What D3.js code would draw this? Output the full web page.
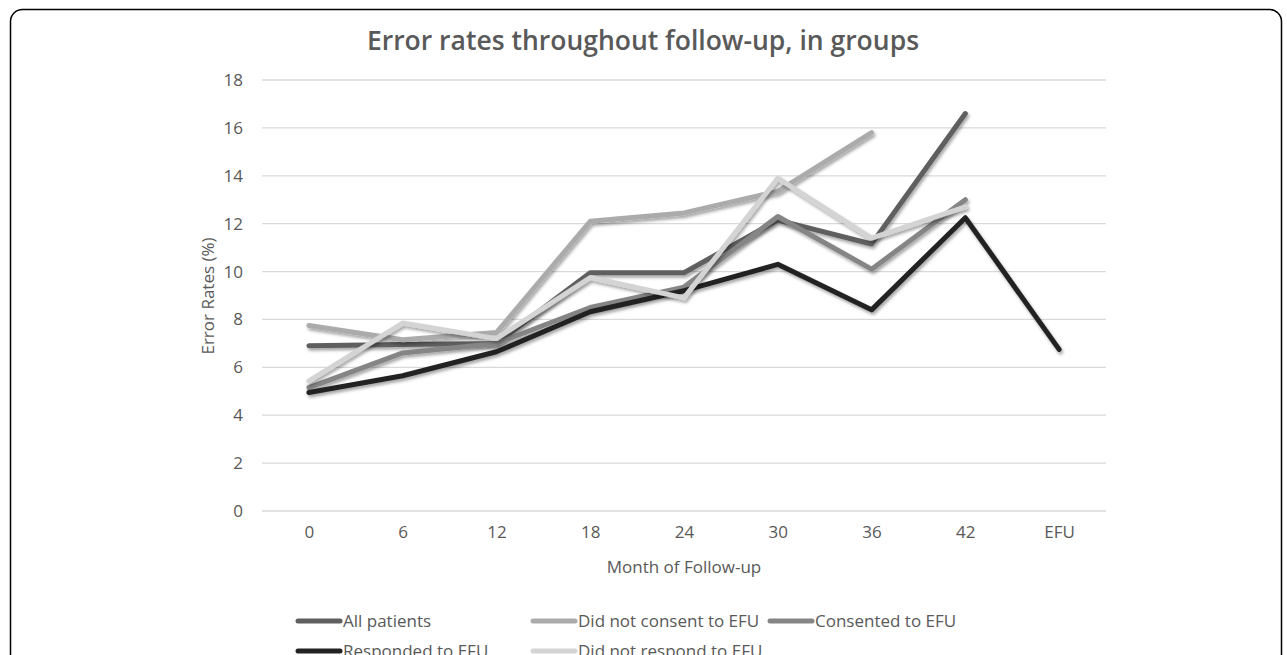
<!DOCTYPE html>
<html>
<head>
<meta charset="utf-8">
<script src="https://cdn.jsdelivr.net/npm/d3@7"></script>
<style>
  body { margin: 0; background: #fff; }
  svg text { font-family: "Open Sans", sans-serif; fill: #595959; }
</style>
</head>
<body>
<div id="chart"></div>
<script>
const width = 1287;
const height = 655;

// Categories (month of follow-up)
const months = ['0', '6', '12', '18', '24', '30', '36', '42', 'EFU'];

// Series values (%), null = no data
const allPatients     = [6.9, 6.95, 7.0, 9.95, 9.95, 12.15, 11.15, 16.6, null];
const didNotConsent   = [7.75, 7.15, 7.45, 12.1, 12.45, 13.35, 15.8, null, null];
const consented       = [5.15, 6.6, 7.0, 8.5, 9.35, 12.3, 10.1, 13.0, null];
const responded       = [4.95, 5.65, 6.65, 8.32, 9.2, 10.3, 8.4, 12.25, 6.75];
const didNotRespond   = [5.43, 7.85, 7.2, 9.75, 8.9, 13.9, 11.4, 12.7, null];

const seriesNames = ['All patients', 'Did not consent to EFU', 'Consented to EFU', 'Responded to EFU', 'Did not respond to EFU'];
const seriesValues = [allPatients, didNotConsent, consented, responded, didNotRespond];
const seriesColors = ['#5f5f5f', '#ababab', '#858585', '#222222', '#d4d4d4'];

// Y ticks
const yTicks = [0, 2, 4, 6, 8, 10, 12, 14, 16, 18];

// Plot area
const plot = { left: 262, right: 1106, top: 80, bottom: 511 };
const labelSize = '17px';

const svg = d3.select('#chart')
    .append('svg')
    .attr('width', width)
    .attr('height', height);

// Shadow for lines
const defs = svg.append('defs');
defs.append('filter')
    .attr('id', 'shadow')
    .attr('x', '-10%').attr('y', '-10%')
    .attr('width', '120%').attr('height', '120%')
    .append('feDropShadow')
    .attr('dx', 1.5)
    .attr('dy', 2.5)
    .attr('stdDeviation', 1.8)
    .attr('flood-color', '#000')
    .attr('flood-opacity', 0.35);

// Chart border
svg.append('rect')
    .attr('x', 10.5)
    .attr('y', 9.5)
    .attr('width', 1271)
    .attr('height', 720)
    .attr('rx', 12)
    .attr('fill', '#fff')
    .attr('stroke', '#000')
    .attr('stroke-width', 1.5);

// Scales
const x = d3.scalePoint()
    .domain(months)
    .range([plot.left, plot.right])
    .padding(0.5);

const y = d3.scaleLinear()
    .domain([0, 18])
    .range([plot.bottom, plot.top]);

// Gridlines
svg.append('g')
    .selectAll('line')
    .data(yTicks)
    .enter().append('line')
    .attr('x1', plot.left)
    .attr('x2', plot.right)
    .attr('y1', d => y(d))
    .attr('y2', d => y(d))
    .attr('stroke', '#d9d9d9')
    .attr('stroke-width', 1.3);

// Y axis labels
const yAxis = svg.append('g')
    .attr('transform', `translate(${plot.left - 6},0)`)
    .call(d3.axisLeft(y).tickValues(yTicks).tickSize(0).tickPadding(13));
yAxis.select('.domain').remove();
yAxis.selectAll('text')
    .style('font-size', labelSize)
    .style('font-family', '"Open Sans", sans-serif')
    .attr('fill', '#595959');

// X axis labels
const xAxis = svg.append('g')
    .attr('transform', `translate(0,${plot.bottom})`)
    .call(d3.axisBottom(x).tickSize(0).tickPadding(15));
xAxis.select('.domain').remove();
xAxis.selectAll('text')
    .style('font-size', labelSize)
    .style('font-family', '"Open Sans", sans-serif')
    .attr('fill', '#595959');

// Title
svg.append('text')
    .attr('x', 643)
    .attr('y', 50)
    .attr('text-anchor', 'middle')
    .style('font-size', '26.5px')
    .style('font-weight', 600)
    .text('Error rates throughout follow-up, in groups');

// Axis titles
svg.append('text')
    .attr('x', 684)
    .attr('y', 573)
    .attr('text-anchor', 'middle')
    .style('font-size', labelSize)
    .text('Month of Follow-up');

svg.append('text')
    .attr('transform', 'translate(214,296) rotate(-90)')
    .attr('text-anchor', 'middle')
    .style('font-size', labelSize)
    .text('Error Rates (%)');

// Lines
const line = d3.line()
    .defined(d => d != null)
    .x((d, i) => x(months[i]))
    .y(d => y(d));

svg.append('g')
    .selectAll('path')
    .data(seriesValues)
    .enter().append('path')
    .attr('d', line)
    .attr('fill', 'none')
    .attr('stroke', (d, i) => seriesColors[i])
    .attr('stroke-width', 5)
    .attr('stroke-linejoin', 'round')
    .attr('stroke-linecap', 'round')
    .attr('filter', 'url(#shadow)');

// Legend
const legendPos = [[298, 621], [533, 621], [770, 621], [298, 651], [533, 651]];

const legend = svg.append('g')
    .selectAll('g')
    .data(seriesNames)
    .enter().append('g')
    .attr('transform', (d, i) => `translate(${legendPos[i][0]},${legendPos[i][1]})`);

legend.append('line')
    .attr('x1', 0)
    .attr('x2', 42)
    .attr('stroke', (d, i) => seriesColors[i])
    .attr('stroke-width', 5)
    .attr('stroke-linecap', 'round');

legend.append('text')
    .attr('x', 45)
    .attr('dy', '0.35em')
    .style('font-size', labelSize)
    .text(d => d);
</script>
</body>
</html>
